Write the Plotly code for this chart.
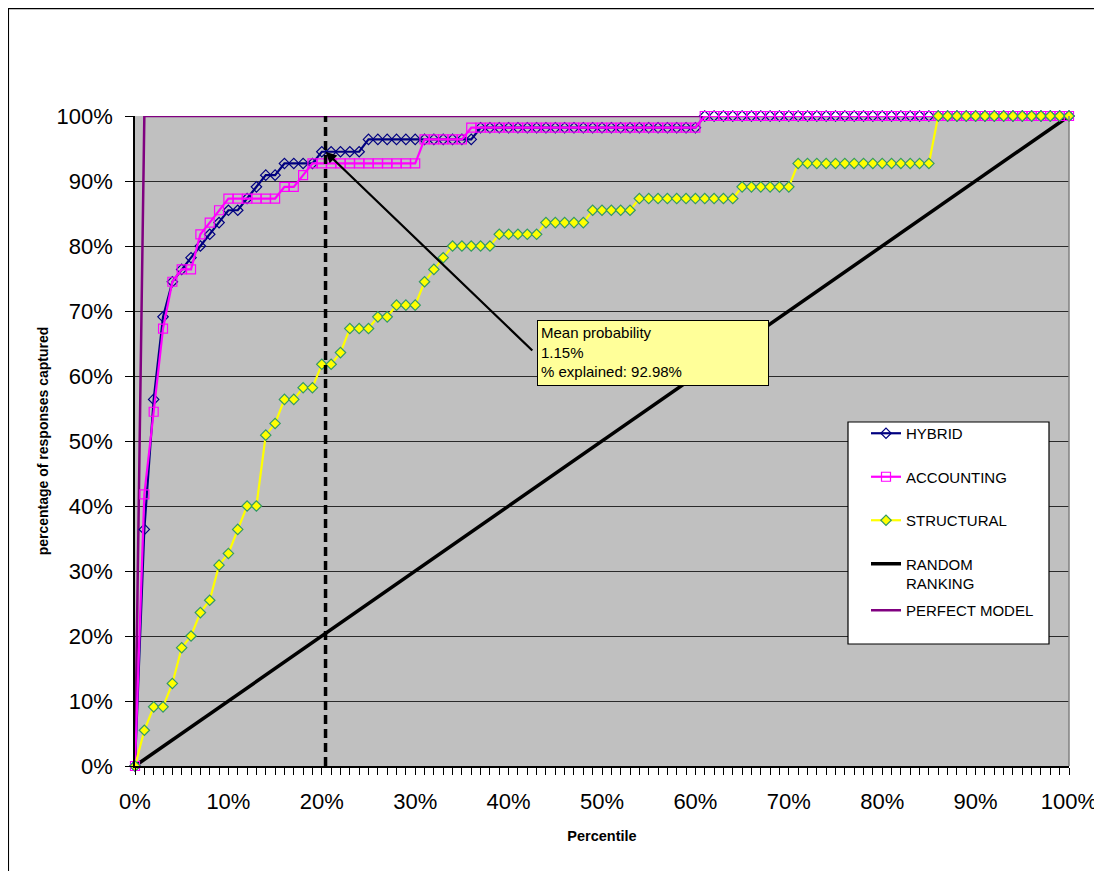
import plotly.graph_objects as go

# ---------------- data ----------------
percentile = list(range(0, 101))

hybrid = [
    0, 36.4, 56.4, 69.1, 74.5, 76.4, 78.2, 80.0, 81.8, 83.6,
    85.5, 85.5, 87.3, 89.1, 90.9, 90.9, 92.7, 92.7, 92.7, 92.7,
    94.5, 94.5, 94.5, 94.5, 94.5, 96.4, 96.4, 96.4, 96.4, 96.4,
    96.4, 96.4, 96.4, 96.4, 96.4, 96.4, 96.4, 98.2, 98.2, 98.2,
    98.2, 98.2, 98.2, 98.2, 98.2, 98.2, 98.2, 98.2, 98.2, 98.2,
    98.2, 98.2, 98.2, 98.2, 98.2, 98.2, 98.2, 98.2, 98.2, 98.2,
    98.2, 100, 100, 100, 100, 100, 100, 100, 100, 100,
    100, 100, 100, 100, 100, 100, 100, 100, 100, 100,
    100, 100, 100, 100, 100, 100, 100, 100, 100, 100,
    100, 100, 100, 100, 100, 100, 100, 100, 100, 100,
    100,
]

accounting = [
    0, 41.8, 54.5, 67.3, 74.5, 76.4, 76.4, 81.8, 83.6, 85.5,
    87.3, 87.3, 87.3, 87.3, 87.3, 87.3, 89.1, 89.1, 90.9, 92.7,
    92.7, 92.7, 92.7, 92.7, 92.7, 92.7, 92.7, 92.7, 92.7, 92.7,
    92.7, 96.4, 96.4, 96.4, 96.4, 96.4, 98.2, 98.2, 98.2, 98.2,
    98.2, 98.2, 98.2, 98.2, 98.2, 98.2, 98.2, 98.2, 98.2, 98.2,
    98.2, 98.2, 98.2, 98.2, 98.2, 98.2, 98.2, 98.2, 98.2, 98.2,
    98.2, 100, 100, 100, 100, 100, 100, 100, 100, 100,
    100, 100, 100, 100, 100, 100, 100, 100, 100, 100,
    100, 100, 100, 100, 100, 100, 100, 100, 100, 100,
    100, 100, 100, 100, 100, 100, 100, 100, 100, 100,
    100,
]

structural = [
    0, 5.5, 9.1, 9.1, 12.7, 18.2, 20.0, 23.6, 25.5, 30.9,
    32.7, 36.4, 40.0, 40.0, 50.9, 52.7, 56.4, 56.4, 58.2, 58.2,
    61.8, 61.8, 63.6, 67.3, 67.3, 67.3, 69.1, 69.1, 70.9, 70.9,
    70.9, 74.5, 76.4, 78.2, 80.0, 80.0, 80.0, 80.0, 80.0, 81.8,
    81.8, 81.8, 81.8, 81.8, 83.6, 83.6, 83.6, 83.6, 83.6, 85.5,
    85.5, 85.5, 85.5, 85.5, 87.3, 87.3, 87.3, 87.3, 87.3, 87.3,
    87.3, 87.3, 87.3, 87.3, 87.3, 89.1, 89.1, 89.1, 89.1, 89.1,
    89.1, 92.7, 92.7, 92.7, 92.7, 92.7, 92.7, 92.7, 92.7, 92.7,
    92.7, 92.7, 92.7, 92.7, 92.7, 92.7, 100, 100, 100, 100,
    100, 100, 100, 100, 100, 100, 100, 100, 100, 100,
    100,
]

random_x = [0, 100]
random_y = [0, 100]

perfect_x = [0, 1, 100]
perfect_y = [0, 100, 100]

cutoff_pct = 20.4
cutoff_capture = 94.5
callout_tail = (42.7, 63.7)
callout_text = ["Mean probability", "1.15%", "% explained: 92.98%"]

x_ticks = [0, 10, 20, 30, 40, 50, 60, 70, 80, 90, 100]
x_labels = ["0%", "10%", "20%", "30%", "40%", "50%", "60%", "70%", "80%", "90%", "100%"]
y_ticks = [0, 10, 20, 30, 40, 50, 60, 70, 80, 90, 100]
y_labels = ["0%", "10%", "20%", "30%", "40%", "50%", "60%", "70%", "80%", "90%", "100%"]

# ---------------- geometry (page has an 8px body margin) ----------------
PAGE_OFF = 8
FIG_W, FIG_H = 1094, 863
PLOT_L, PLOT_R, PLOT_T, PLOT_B = 135, 1069, 116, 766   # target page pixels
PW, PH = PLOT_R - PLOT_L, PLOT_B - PLOT_T


def px(xpage):
    return (xpage - PLOT_L) / PW


def py(ypage):
    return 1 - (ypage - PLOT_T) / PH


FONT = "Arial, 'Liberation Sans', sans-serif"
LEGEND_FONT = dict(family=FONT, size=15, color="#000000")

fig = go.Figure()

fig.add_trace(go.Scatter(
    x=perfect_x, y=perfect_y, mode="lines", name="PERFECT MODEL",
    line=dict(color="#800080", width=2.5), legend="legend2",
))
fig.add_trace(go.Scatter(
    x=random_x, y=random_y, mode="lines", name="RANDOM<br>RANKING",
    line=dict(color="#000000", width=3.5), legendrank=4, legendgroup="r",
))
fig.add_trace(go.Scatter(
    x=percentile, y=hybrid, mode="lines+markers", name="HYBRID",
    line=dict(color="#000080", width=2.2),
    marker=dict(symbol="diamond-open", size=8, color="#000080", line=dict(width=1.2)),
    cliponaxis=False, legendrank=1, legendgroup="h",
))
fig.add_trace(go.Scatter(
    x=percentile, y=accounting, mode="lines+markers", name="ACCOUNTING",
    line=dict(color="#FF00FF", width=2.2),
    marker=dict(symbol="square-open", size=9, color="#FF00FF", line=dict(width=1.2)),
    cliponaxis=False, legendrank=2, legendgroup="a",
))
fig.add_trace(go.Scatter(
    x=percentile, y=structural, mode="lines+markers", name="STRUCTURAL",
    line=dict(color="#FFFF00", width=2.2),
    marker=dict(symbol="diamond", size=8, color="#FFFF00", line=dict(color="#339966", width=1.2)),
    cliponaxis=False, legendrank=3, legendgroup="s",
))

shapes = [
    # outer chart border (left & top visible)
    dict(type="rect", xref="paper", yref="paper", x0=px(8.3), x1=1.2, y0=-0.4, y1=py(8.6),
         line=dict(color="#000000", width=1.5), fillcolor="rgba(0,0,0,0)", layer="below"),
    # plot area right border
    dict(type="line", xref="paper", yref="paper", x0=1, x1=1, y0=0, y1=1,
         line=dict(color="#808080", width=1.5), layer="above"),
    # cutoff dashed line
    dict(type="line", xref="x", yref="y", x0=cutoff_pct, x1=cutoff_pct, y0=0, y1=100,
         line=dict(color="#000000", width=3.5, dash="9px,5px"), layer="above"),
    # legend box
    dict(type="rect", xref="paper", yref="paper",
         x0=px(848), x1=px(1049), y0=py(644), y1=py(422),
         line=dict(color="#000000", width=1.2), fillcolor="#FFFFFF", layer="above"),
]

annotations = [
    # arrow from callout to the cutoff point
    dict(x=cutoff_pct, y=cutoff_capture, xref="x", yref="y",
         ax=callout_tail[0], ay=callout_tail[1], axref="x", ayref="y",
         text="", showarrow=True, arrowhead=2, arrowsize=1.0, arrowwidth=2.2,
         arrowcolor="#000000", standoff=0, startstandoff=0),
    # callout box
    dict(x=43.0, y=68.6, xref="x", yref="y", xanchor="left", yanchor="top",
         text="<br>".join(callout_text), showarrow=False, align="left", valign="top",
         width=224, height=58, borderpad=3, bgcolor="#FFFF99",
         bordercolor="#000000", borderwidth=1,
         font=dict(family=FONT, size=15, color="#000000")),
]

fig.update_layout(
    width=FIG_W, height=FIG_H,
    margin=dict(l=PLOT_L - PAGE_OFF, r=FIG_W - (PLOT_R - PAGE_OFF),
                t=PLOT_T - PAGE_OFF, b=FIG_H - (PLOT_B - PAGE_OFF), autoexpand=False),
    paper_bgcolor="#FFFFFF", plot_bgcolor="#C0C0C0",
    font=dict(family=FONT, color="#000000"),
    showlegend=True,
    legend=dict(
        x=px(866), y=py(417), xanchor="left", yanchor="top",
        bgcolor="rgba(0,0,0,0)", borderwidth=0, tracegroupgap=21,
        font=LEGEND_FONT, valign="top", traceorder="grouped",
    ),
    legend2=dict(
        x=px(866), y=py(594), xanchor="left", yanchor="top",
        bgcolor="rgba(0,0,0,0)", borderwidth=0, font=LEGEND_FONT,
    ),
    shapes=shapes,
    annotations=annotations,
    hovermode=False,
    xaxis=dict(
        range=[0, 100], tickmode="array", tickvals=x_ticks, ticktext=x_labels,
        showgrid=False, zeroline=False, showline=True, linecolor="#000000", linewidth=1.5,
        ticks="outside", ticklen=7, tickcolor="#000000", tickwidth=1,
        ticklabelstandoff=8, ticklabeloverflow="allow",
        minor=dict(dtick=1, ticks="outside", ticklen=7, tickcolor="#000000", tickwidth=1, showgrid=False),
        tickfont=dict(family=FONT, size=22, color="#000000"),
        title=dict(text="<b>Percentile</b>", font=dict(family=FONT, size=14.5), standoff=18),
        automargin=False,
    ),
    yaxis=dict(
        range=[0, 100], tickmode="array", tickvals=y_ticks, ticktext=y_labels,
        showgrid=True, gridcolor="#2a2a2a", gridwidth=1, zeroline=False,
        showline=True, linecolor="#000000", linewidth=1.5,
        ticks="outside", ticklen=8, tickcolor="#000000", tickwidth=1,
        ticklabelstandoff=8,
        tickfont=dict(family=FONT, size=22, color="#000000"),
        title=dict(text="<b>percentage of responses captured</b>", font=dict(family=FONT, size=14), standoff=5),
        automargin=False,
    ),
)

fig.write_html("out.html")
